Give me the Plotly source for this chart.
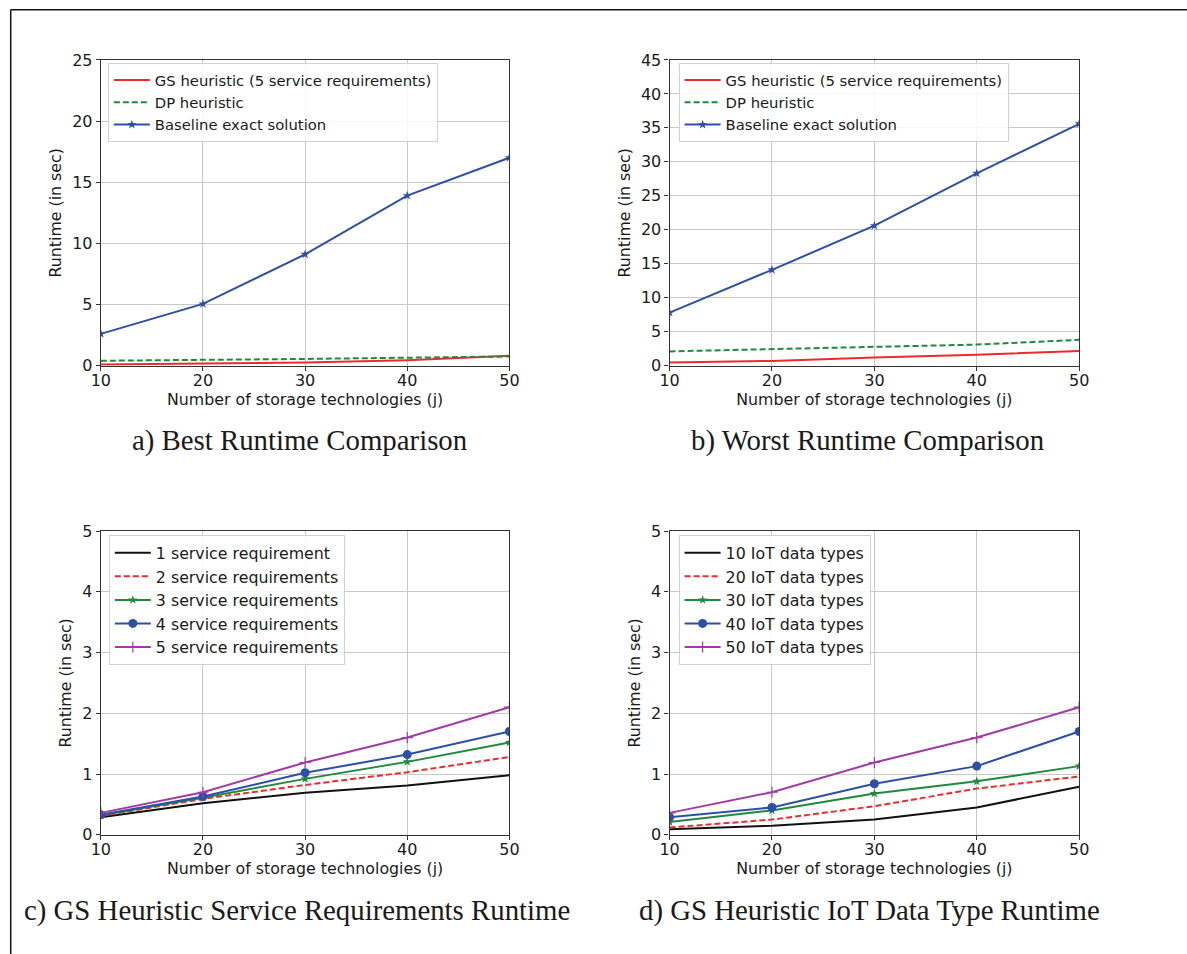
import plotly.graph_objects as go

# Observed mapping of the page photograph: window_px = A + S * figure_px
AX, SX = 9.3, 0.982
AY, SY = 9.2, 0.978
W, H = 1200, 966

x_vals = [10, 20, 30, 40, 50]

# Panel a: best runtime
a_gs = [0.1, 0.15, 0.25, 0.45, 0.8]
a_dp = [0.4, 0.45, 0.55, 0.65, 0.75]
a_base = [2.6, 5.05, 9.1, 13.9, 17.0]

# Panel b: worst runtime
b_gs = [0.45, 0.7, 1.2, 1.6, 2.15]
b_dp = [2.1, 2.4, 2.7, 3.1, 3.8]
b_base = [7.8, 14.1, 20.6, 28.3, 35.6]

# Panel c: service requirements
c_1 = [0.29, 0.52, 0.69, 0.81, 0.98]
c_2 = [0.31, 0.59, 0.82, 1.03, 1.28]
c_3 = [0.32, 0.61, 0.92, 1.20, 1.52]
c_4 = [0.33, 0.63, 1.02, 1.32, 1.70]
c_5 = [0.36, 0.70, 1.19, 1.60, 2.10]

# Panel d: IoT data types
d_10 = [0.09, 0.15, 0.25, 0.45, 0.79]
d_20 = [0.12, 0.25, 0.47, 0.76, 0.96]
d_30 = [0.21, 0.40, 0.68, 0.88, 1.13]
d_40 = [0.29, 0.45, 0.84, 1.13, 1.70]
d_50 = [0.36, 0.70, 1.19, 1.60, 2.10]

ab_names = ["GS heuristic (5 service requirements)", "DP heuristic", "Baseline exact solution"]
c_names = ["1 service requirement", "2 service requirements", "3 service requirements",
           "4 service requirements", "5 service requirements"]
d_names = ["10 IoT data types", "20 IoT data types", "30 IoT data types",
           "40 IoT data types", "50 IoT data types"]

captions = ["a) Best Runtime Comparison", "b) Worst Runtime Comparison",
            "c) GS Heuristic Service Requirements Runtime", "d) GS Heuristic IoT Data Type Runtime"]

RED = "#ee2a2a"
GREEN = "#1f8a3e"
BLUE = "#2d4fa8"
PURPLE = "#a23ba6"
BLACK = "#111111"
LW = 2.0
DASH = "6px,3px"

fig = go.Figure()

def px_x(p):
    return max(((p - AX) / SX) / W, 0.0006)

def px_y(p):
    return min(1 - ((p - AY) / SY) / H, 0.9992)

# plot areas in window pixels (left, right, top, bottom)
areas = {
    1: (100, 508, 60, 365),
    2: (668, 1077, 60, 365),
    3: (100, 508, 530, 833),
    4: (668, 1077, 530, 833),
}

def add(idx, y, name, color, dash=None, marker=None, msize=7, legend="legend"):
    xa = "x" if idx == 1 else f"x{idx}"
    ya = "y" if idx == 1 else f"y{idx}"
    mode = "lines+markers" if marker else "lines"
    mk = dict(symbol=marker, size=msize, color=color) if marker else None
    if marker == "cross-thin":
        mk = dict(symbol=marker, size=msize, color=color, line=dict(color=color, width=1.2))
    fig.add_trace(go.Scatter(
        x=x_vals, y=y, name=name, mode=mode, xaxis=xa, yaxis=ya,
        line=dict(color=color, width=LW, dash=dash) if dash else dict(color=color, width=LW),
        marker=mk, legend=legend, showlegend=True))

# a
add(1, a_gs, ab_names[0], RED, legend="legend")
add(1, a_dp, ab_names[1], GREEN, dash=DASH, legend="legend")
add(1, a_base, ab_names[2], BLUE, marker="star", msize=7, legend="legend")
# b
add(2, b_gs, ab_names[0], RED, legend="legend2")
add(2, b_dp, ab_names[1], GREEN, dash=DASH, legend="legend2")
add(2, b_base, ab_names[2], BLUE, marker="star", msize=7, legend="legend2")
# c
for y, n, col, d, m, s in [(c_1, c_names[0], BLACK, None, None, 0),
                           (c_2, c_names[1], RED, DASH, None, 0),
                           (c_3, c_names[2], GREEN, None, "star", 7),
                           (c_4, c_names[3], BLUE, None, "circle", 9),
                           (c_5, c_names[4], PURPLE, None, "cross-thin", 8)]:
    add(3, y, n, col, dash=d, marker=m, msize=s, legend="legend3")
# d
for y, n, col, d, m, s in [(d_10, d_names[0], BLACK, None, None, 0),
                           (d_20, d_names[1], RED, DASH, None, 0),
                           (d_30, d_names[2], GREEN, None, "star", 7),
                           (d_40, d_names[3], BLUE, None, "circle", 9),
                           (d_50, d_names[4], PURPLE, None, "cross-thin", 8)]:
    add(4, y, n, col, dash=d, marker=m, msize=s, legend="legend4")

tick_font = dict(family="DejaVu Sans", size=16, color="#1a1a1a")
title_font = dict(family="DejaVu Sans", size=15.8, color="#1a1a1a")
yranges = {1: (0, 25, 5), 2: (0, 45, 5), 3: (0, 5, 1), 4: (0, 5, 1)}

layout = dict(
    width=W, height=H, margin=dict(l=0, r=0, t=0, b=0),
    paper_bgcolor="white", plot_bgcolor="white", showlegend=True,
)
for idx, (l, r, t, b) in areas.items():
    xk = "xaxis" if idx == 1 else f"xaxis{idx}"
    yk = "yaxis" if idx == 1 else f"yaxis{idx}"
    xa = "x" if idx == 1 else f"x{idx}"
    ya = "y" if idx == 1 else f"y{idx}"
    y0, y1, dt = yranges[idx]
    layout[xk] = dict(
        domain=[px_x(l), px_x(r)], anchor=ya, range=[10, 50], tickmode="array",
        tickvals=x_vals, ticktext=[str(v) for v in x_vals],
        showgrid=True, gridcolor="#c8c8c8", gridwidth=1, zeroline=False,
        showline=True, linecolor="#333333", linewidth=1.2, mirror=True,
        ticks="outside", ticklen=4, tickcolor="#333333", tickfont=tick_font,
        ticklabelstandoff=-4,
        title=dict(text="Number of storage technologies (j)", font=title_font, standoff=2),
    )
    layout[yk] = dict(
        domain=[px_y(b), px_y(t)], anchor=xa, range=[y0, y1], dtick=dt, tick0=0,
        showgrid=True, gridcolor="#c8c8c8", gridwidth=1, zeroline=False,
        showline=True, linecolor="#333333", linewidth=1.2, mirror=True,
        ticks="outside", ticklen=4, tickcolor="#333333", tickfont=tick_font,
        title=dict(text="Runtime (in sec)", font=title_font, standoff=6),
    )

def leg(x, y, fs):
    return dict(x=px_x(x), y=px_y(y), xanchor="left", yanchor="top",
                xref="paper", yref="paper", bgcolor="rgba(255,255,255,0.85)",
                bordercolor="#d0d0d0", borderwidth=1,
                font=dict(family="DejaVu Sans", size=fs, color="#1a1a1a"),
                tracegroupgap=0, itemwidth=36)
layout["legend"] = leg(107, 63, 14.8)
layout["legend2"] = leg(677, 63, 14.8)
layout["legend3"] = leg(108, 534, 15.8)
layout["legend4"] = leg(677, 534, 15.8)

fig.update_layout(**layout)

cap_font = dict(family="Liberation Serif", size=28.8, color="#1a1a1a")
cap_pos = [(298, 440), (866, 440), (296, 909), (868, 909)]
for text, (cx, cy) in zip(captions, cap_pos):
    fig.add_annotation(text=text, x=px_x(cx), y=px_y(cy), xref="paper", yref="paper",
                       showarrow=False, font=cap_font, xanchor="center", yanchor="middle")

# outer frame (top and left edges)
fig.add_shape(type="line", xref="paper", yref="paper", x0=px_x(5), x1=1, y0=px_y(4), y1=px_y(4),
              line=dict(color="#111111", width=1.5))
fig.add_shape(type="line", xref="paper", yref="paper", x0=px_x(5), x1=px_x(5), y0=px_y(4), y1=0,
              line=dict(color="#111111", width=1.5))

fig.write_html("out.html")
